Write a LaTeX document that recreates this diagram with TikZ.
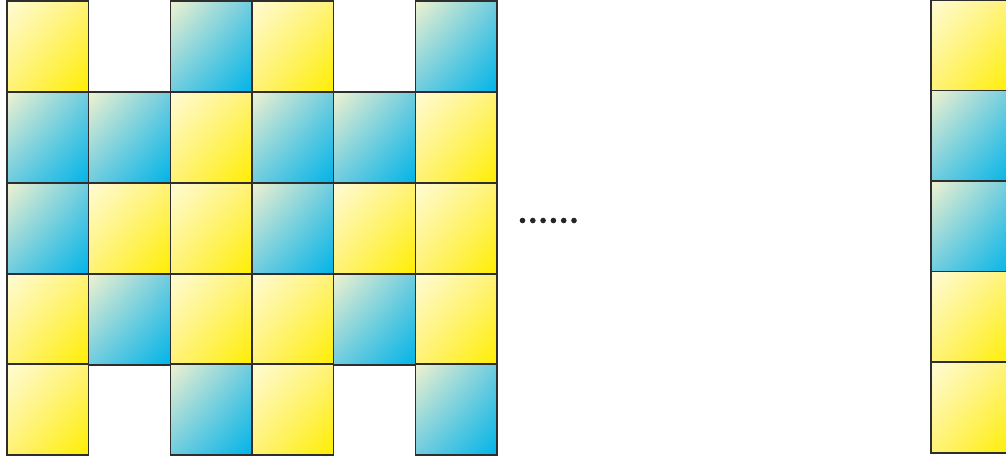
\documentclass[tikz,border=0pt]{standalone}
\usetikzlibrary{shadings}
\definecolor{ypale}{HTML}{FFFBD5}
\definecolor{ymid}{HTML}{FFF276}
\definecolor{ydeep}{HTML}{FFEE00}
\definecolor{bpale}{HTML}{F0F2D0}
\definecolor{bmid}{HTML}{70CCDF}
\definecolor{bdeep}{HTML}{00B4E8}
\definecolor{edge}{HTML}{2E2E2E}
\tikzset{
  cellbase/.style={anchor=north west, inner sep=0pt, outer sep=0pt,
    minimum width=81.67pt, minimum height=91pt, draw=edge, line width=1.2pt},
  ycell/.style={cellbase, shade, upper left=ypale, lower right=ydeep,
    upper right=ymid, lower left=ymid},
  bcell/.style={cellbase, shade, upper left=bpale, lower right=bdeep,
    upper right=bmid, lower left=bmid},
  dotmark/.style={circle, fill=black!85, inner sep=0pt, minimum size=5.6pt}
}
\begin{document}
\begin{tikzpicture}[x=1pt,y=-1pt]
\useasboundingbox (0,0) rectangle (1006,459);
\clip (0,0) rectangle (1006,459);
% column x positions: 7, 88.67, 170.33, 252, 333.67, 415.33
\node[ycell] (r0c0) at (7,1) {};
\node[bcell] (r0c2) at (170.33,1) {};
\node[ycell] (r0c3) at (252,1) {};
\node[bcell] (r0c5) at (415.33,1) {};

\node[bcell] (r1c0) at (7,92) {};
\node[bcell] (r1c1) at (88.67,92) {};
\node[ycell] (r1c2) at (170.33,92) {};
\node[bcell] (r1c3) at (252,92) {};
\node[bcell] (r1c4) at (333.67,92) {};
\node[ycell] (r1c5) at (415.33,92) {};

\node[bcell] (r2c0) at (7,183) {};
\node[ycell] (r2c1) at (88.67,183) {};
\node[ycell] (r2c2) at (170.33,183) {};
\node[bcell] (r2c3) at (252,183) {};
\node[ycell] (r2c4) at (333.67,183) {};
\node[ycell] (r2c5) at (415.33,183) {};

\node[ycell] (r3c0) at (7,274) {};
\node[bcell] (r3c1) at (88.67,274) {};
\node[ycell] (r3c2) at (170.33,274) {};
\node[ycell] (r3c3) at (252,274) {};
\node[bcell] (r3c4) at (333.67,274) {};
\node[ycell] (r3c5) at (415.33,274) {};

\node[ycell] (r4c0) at (7,364) {};
\node[bcell] (r4c2) at (170.33,364) {};
\node[ycell] (r4c3) at (252,364) {};
\node[bcell] (r4c5) at (415.33,364) {};

% right column (partly cut off)
\node[ycell] (s0) at (931,0) {};
\node[bcell] (s1) at (931,90.5) {};
\node[bcell] (s2) at (931,181) {};
\node[ycell] (s3) at (931,271.5) {};
\node[ycell] (s4) at (931,362) {};

% ellipsis dots
\foreach \i in {0,...,5} {
  \node[dotmark] (d\i) at (522.5+10.3*\i,220.5) {};
}
\end{tikzpicture}
\end{document}
